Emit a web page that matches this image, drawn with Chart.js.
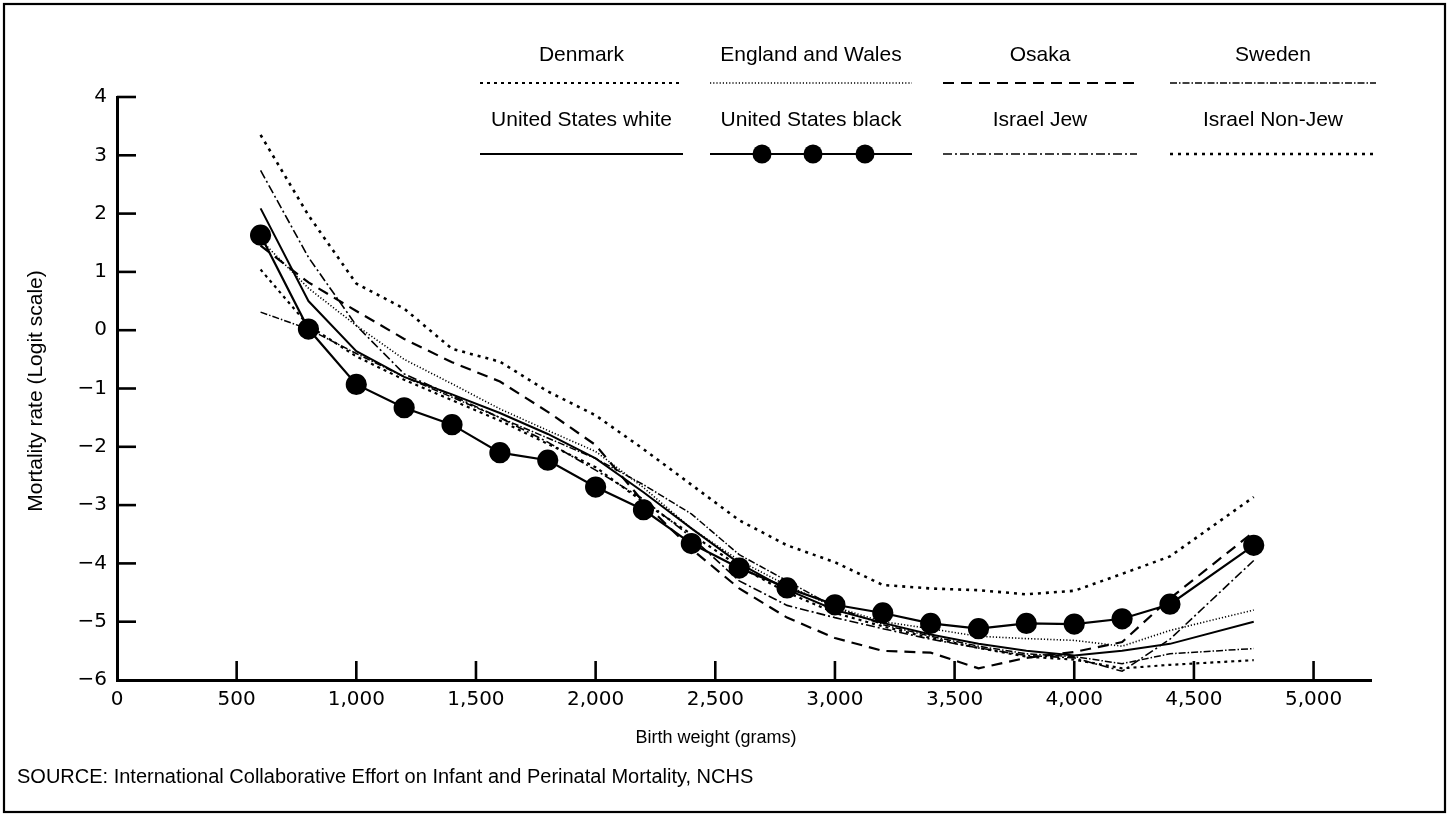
<!DOCTYPE html>
<html><head><meta charset="utf-8">
<script src="https://cdn.jsdelivr.net/npm/chart.js@4"></script>
<style>html,body{margin:0;padding:0;background:#fff;} #wrap{width:1451px;height:818px;position:relative;}</style>
</head><body><div id="wrap"><canvas id="c" width="1451" height="818"></canvas></div>
<script>
// ---- data (birth weight groups, grams) ----
const weights = [600,800,1000,1200,1400,1600,1800,2000,2200,2400,2600,2800,3000,3200,3400,3600,3800,4000,4200,4400,4750];
const denmark      = [1.04, 0.08, -0.45, -0.85, -1.20, -1.55, -1.95, -2.35, -2.95, -3.50, -4.05, -4.50, -4.85, -5.08, -5.28, -5.45, -5.60, -5.65, -5.80, -5.74, -5.66];
const englandWales = [1.55, 0.72, 0.08, -0.50, -0.92, -1.35, -1.72, -2.08, -2.70, -3.40, -3.95, -4.38, -4.75, -5.00, -5.12, -5.25, -5.29, -5.32, -5.42, -5.15, -4.80];
const osaka        = [1.45, 0.82, 0.33, -0.15, -0.55, -0.88, -1.40, -1.97, -2.95, -3.75, -4.43, -4.93, -5.28, -5.50, -5.53, -5.80, -5.62, -5.52, -5.35, -4.60, -3.46];
const sweden       = [0.31, 0.02, -0.40, -0.80, -1.15, -1.50, -1.85, -2.20, -2.65, -3.15, -3.85, -4.30, -4.75, -5.05, -5.25, -5.42, -5.55, -5.60, -5.72, -5.55, -5.46];
const usWhite      = [2.09, 0.50, -0.36, -0.80, -1.10, -1.42, -1.78, -2.20, -2.78, -3.40, -4.00, -4.45, -4.80, -5.02, -5.22, -5.38, -5.50, -5.58, -5.50, -5.38, -5.00];
const usBlack      = [1.63, 0.02, -0.93, -1.33, -1.62, -2.10, -2.23, -2.69, -3.08, -3.66, -4.08, -4.42, -4.71, -4.85, -5.03, -5.12, -5.03, -5.04, -4.95, -4.70, -3.69];
const israelJew    = [2.74, 1.25, 0.08, -0.75, -1.12, -1.50, -1.92, -2.40, -2.90, -3.55, -4.30, -4.72, -4.93, -5.12, -5.30, -5.45, -5.58, -5.62, -5.85, -5.30, -3.95];
const israelNonJew = [3.35, 1.97, 0.80, 0.37, -0.32, -0.54, -1.05, -1.46, -2.04, -2.65, -3.26, -3.69, -3.98, -4.37, -4.43, -4.46, -4.53, -4.47, -4.18, -3.88, -2.86];

const xTickValues = [0,500,1000,1500,2000,2500,3000,3500,4000,4500,5000];
const yTickValues = [-6,-5,-4,-3,-2,-1,0,1,2,3,4];

const seriesLabels = ["Denmark","England and Wales","Osaka","Sweden","United States white","United States black","Israel Jew","Israel Non-Jew"];
const xTitle = "Birth weight (grams)";
const yTitle = "Mortality rate (Logit scale)";
const sourceNote = "SOURCE: International Collaborative Effort on Infant and Perinatal Mortality, NCHS";

const FONT = "'Liberation Sans', Arial, sans-serif";
const TICKFONT = "'DejaVu Sans', 'Liberation Sans', sans-serif";
const pts = arr => weights.map((w,i)=>({x:w, y:arr[i]}));

function ds(label, arr, dash, width, extra){
  return Object.assign({label, data: pts(arr), borderColor:'#000', backgroundColor:'#000',
    borderWidth: width, borderDash: dash, pointRadius:0, tension:0, fill:false}, extra||{});
}

const datasets = [
  ds(seriesLabels[0], denmark, [3,4], 2.2),
  ds(seriesLabels[1], englandWales, [1.2,2], 1.6),
  ds(seriesLabels[2], osaka, [11,7], 2.2),
  ds(seriesLabels[3], sweden, [7,2,1.5,2], 1.5),
  ds(seriesLabels[4], usWhite, [], 2),
  ds(seriesLabels[6], israelJew, [9,3,2,3], 1.6),
  ds(seriesLabels[7], israelNonJew, [3,5], 2.6),
  ds(seriesLabels[5], usBlack, [], 2.2, {pointRadius:9.5, pointHoverRadius:9.5, pointBackgroundColor:'#000', pointBorderColor:'#000'}),
];

const decor = {
  id:'decor',
  afterDraw(chart){
    const ctx = chart.ctx, a = chart.chartArea, xs = chart.scales.x, ys = chart.scales.y;
    ctx.save();
    // frame
    ctx.strokeStyle='#000'; ctx.lineWidth=2.2; ctx.setLineDash([]);
    ctx.strokeRect(4,4,1441,808);
    // inward ticks
    ctx.lineWidth=2.6;
    ys.ticks.forEach(t=>{ if(t.value<=-6) return; const py=ys.getPixelForValue(t.value);
      ctx.beginPath(); ctx.moveTo(a.left,py); ctx.lineTo(a.left+19,py); ctx.stroke(); });
    xs.ticks.forEach(t=>{ if(t.value<=0) return; const px=xs.getPixelForValue(t.value);
      ctx.beginPath(); ctx.moveTo(px,a.bottom); ctx.lineTo(px,a.bottom-19); ctx.stroke(); });
    // titles
    ctx.fillStyle='#000';
    ctx.font = "18px "+FONT; ctx.textAlign='center'; ctx.textBaseline='middle';
    ctx.fillText(xTitle, 716, 738);
    ctx.save(); ctx.font = "21px "+FONT; ctx.translate(36, 391); ctx.rotate(-Math.PI/2); ctx.fillText(yTitle,0,0); ctx.restore();
    ctx.textAlign='left'; ctx.font = "20px "+FONT;
    ctx.fillText(sourceNote, 17, 777);
    // legend
    const cols = [[480,683],[710,912],[943,1137],[1170,1376]];
    const rows = [{t:55,l:83},{t:120,l:154}];
    ctx.font = "21px "+FONT; ctx.textAlign='center'; ctx.textBaseline='middle';
    seriesLabels.forEach((lab,k)=>{
      const c = cols[k%4], r = rows[Math.floor(k/4)];
      const d = chart.data.datasets.find(q=>q.label===lab);
      ctx.fillStyle='#000';
      ctx.fillText(lab, (c[0]+c[1])/2, r.t);
      ctx.strokeStyle='#000'; ctx.lineWidth=d.borderWidth; ctx.setLineDash(d.borderDash||[]);
      ctx.beginPath(); ctx.moveTo(c[0],r.l); ctx.lineTo(c[1],r.l); ctx.stroke();
      ctx.setLineDash([]);
      if(d.pointRadius>0){
        [762,813,865].forEach(px=>{ ctx.beginPath(); ctx.arc(px,r.l,d.pointRadius,0,Math.PI*2); ctx.fill(); });
      }
    });
    ctx.restore();
  }
};

Chart.defaults.font.family = FONT;
Chart.defaults.color = '#000';

new Chart(document.getElementById('c'), {
  type:'line',
  data:{datasets},
  options:{
    responsive:false, animation:false, devicePixelRatio:1,
    layout:{padding:{left:0, top:97, right:80, bottom:0}},
    plugins:{legend:{display:false}, tooltip:{enabled:false}},
    scales:{
      x:{type:'linear', min:0, max:5240,
        afterFit(s){ s.height = 138; },
        afterBuildTicks(s){ s.ticks = xTickValues.map(v=>({value:v})); },
        ticks:{padding:8, font:{size:20, family:TICKFONT}, maxRotation:0, autoSkip:false,
          callback:v=>v.toLocaleString('en-US')},
        grid:{drawOnChartArea:false, drawTicks:false},
        border:{display:true, color:'#000', width:3}},
      y:{type:'linear', min:-6, max:4,
        afterFit(s){ s.width = 117; },
        afterBuildTicks(s){ s.ticks = yTickValues.map(v=>({value:v})); },
        ticks:{padding:10, font:{size:20, family:TICKFONT}, autoSkip:false,
          callback:v=> v<0 ? '\u2212'+Math.abs(v) : String(v)},
        grid:{drawOnChartArea:false, drawTicks:false},
        border:{display:true, color:'#000', width:3}}
    }
  },
  plugins:[decor]
});
</script></body></html>
